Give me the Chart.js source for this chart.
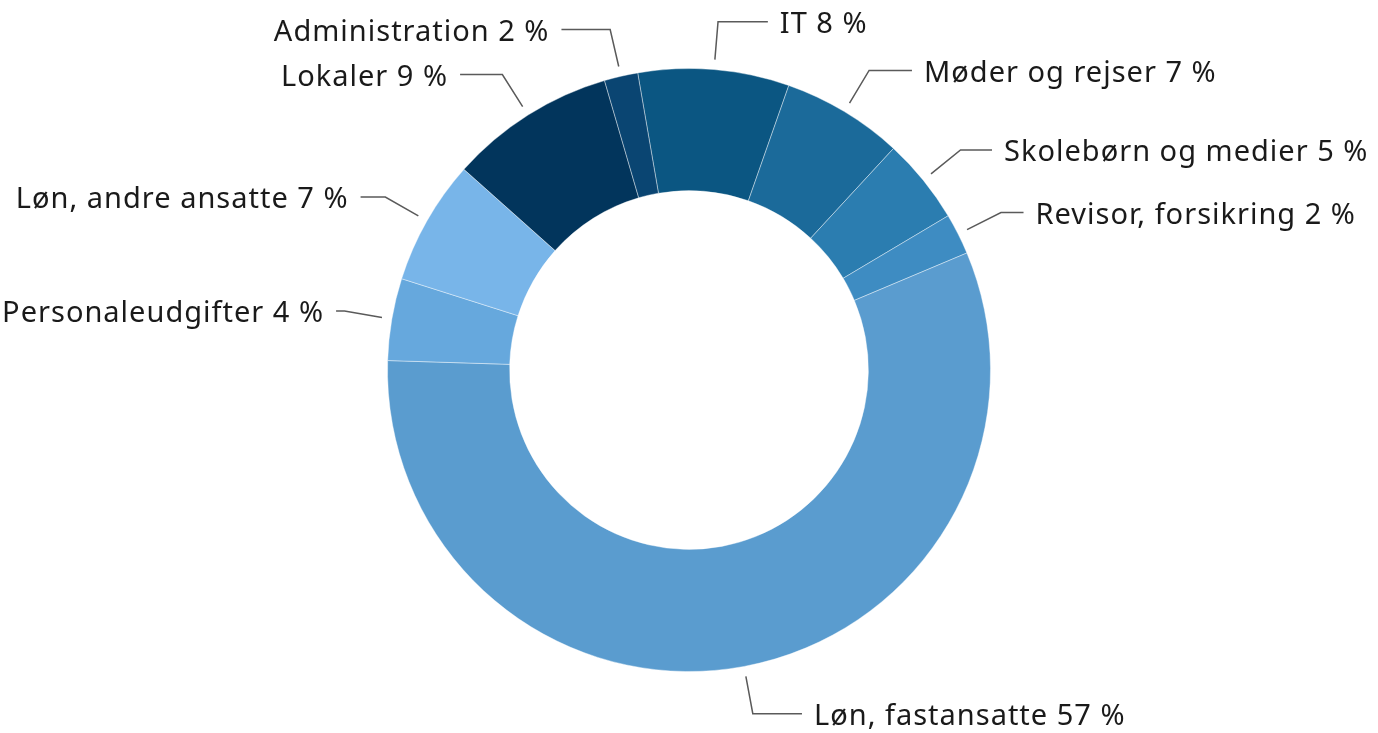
<!DOCTYPE html>
<html>
<head>
<meta charset="utf-8">
<script src="https://cdn.jsdelivr.net/npm/chart.js@4.4.1/dist/chart.umd.min.js"></script>
<style>
  html, body { margin: 0; padding: 0; background: #fff; }
  #wrap { width: 1378px; height: 733px; }
</style>
</head>
<body>
<div id="wrap"><canvas id="chart"></canvas></div>
<script>
// Udgifter fordelt på poster (andel i procent)
const categories = ["IT", "Møder og rejser", "Skolebørn og medier", "Revisor, forsikring",
  "Løn, fastansatte", "Personaleudgifter", "Løn, andre ansatte", "Lokaler", "Administration"];
const shares = [8.1, 6.5, 4.6, 2.2, 56.9, 4.4, 6.7, 8.9, 1.8];
const shownPct = [8, 7, 5, 2, 57, 4, 7, 9, 2];
const colors = ["#0b5682", "#1b6a9a", "#2b7db0", "#3e8cc2", "#5a9ccf",
  "#66a8dd", "#78b5e9", "#02355c", "#0a4572"];

const FONT = '29px "Noto Sans"';

const outsideLabels = {
  id: 'outsideLabels',
  afterDatasetsDraw(chart) {
    const ctx = chart.ctx;
    const meta = chart.getDatasetMeta(0);
    ctx.save();
    ctx.font = FONT;
    ctx.letterSpacing = '1px';
    ctx.fillStyle = '#1a1a1a';
    ctx.strokeStyle = '#5a5a5a';
    ctx.lineWidth = 1.5;
    ctx.textBaseline = 'middle';
    meta.data.forEach((arc, i) => {
      const p = arc.getProps(['x', 'y', 'startAngle', 'endAngle', 'outerRadius'], true);
      const mid = (p.startAngle + p.endAngle) / 2;
      const c = Math.cos(mid), s = Math.sin(mid);
      const x0 = p.x + c * (p.outerRadius + 10), y0 = p.y + s * (p.outerRadius + 10);
      const x1 = p.x + c * (p.outerRadius + 48), y1 = p.y + s * (p.outerRadius + 48);
      const right = c >= 0;
      const len = 50 * Math.abs(s);
      const x2 = right ? x1 + len : x1 - len;
      ctx.beginPath();
      ctx.moveTo(x0, y0);
      ctx.lineTo(x1, y1);
      ctx.lineTo(x2, y1);
      ctx.stroke();
      ctx.textAlign = right ? 'left' : 'right';
      const txt = categories[i] + ' ' + shownPct[i] + ' %';
      ctx.fillText(txt, right ? x2 + 12 : x2 - 12, y1 + 3);
    });
    ctx.restore();
  }
};

new Chart(document.getElementById('chart'), {
  type: 'doughnut',
  data: {
    labels: categories,
    datasets: [{
      data: shares,
      backgroundColor: colors,
      borderColor: 'rgba(255,255,255,0.4)',
      borderWidth: 1
    }]
  },
  options: {
    responsive: true,
    maintainAspectRatio: false,
    animation: false,
    rotation: -9.8,
    cutout: '59.5%',
    layout: { padding: { top: 68, bottom: 61, left: 0, right: 0 } },
    plugins: {
      legend: { display: false },
      tooltip: { enabled: false },
      title: { display: false }
    }
  },
  plugins: [outsideLabels]
});
</script>
</body>
</html>
